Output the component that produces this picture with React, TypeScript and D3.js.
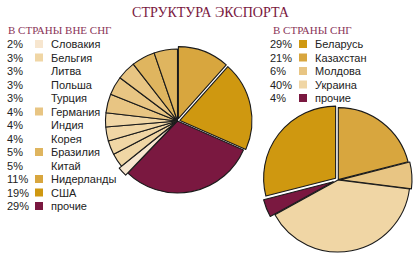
import React from "react";
import * as d3 from "d3";

const leftNames = ["Словакия","Бельгия","Литва","Польша","Турция","Германия","Индия","Корея","Бразилия","Китай","Нидерланды","США","прочие"];
const leftValues = [2,3,3,3,3,4,4,4,5,5,11,19,29];
const leftColors = ["#f7e6cf","#f0d6a5","#f0d6a5","#f0d6a5","#f0d6a5","#e8c583","#e8c583","#e8c583","#dfb55f","#dfb55f","#d8a63e","#cf9810","#7a1840"];
const leftSwatch = [true,true,false,false,false,true,false,false,true,false,true,true,true];
const leftPieOrder = ["Нидерланды","США","прочие","Словакия","Бельгия","Литва","Польша","Турция","Германия","Индия","Корея","Бразилия","Китай"];
const leftExplode: Record<string, number> = { "Нидерланды": 2.5, "США": 2.5, "Словакия": 3 };

const rightNames = ["Беларусь","Казахстан","Молдова","Украина","прочие"];
const rightValues = [29,21,6,40,4];
const rightColors = ["#cf9810","#d8a63e","#e8c583","#f0d6a5","#7a1840"];
const rightPieOrder = ["Казахстан","Молдова","Украина","прочие","Беларусь"];
const rightExplode: Record<string, number> = { "Беларусь": 3, "Молдова": 2, "прочие": 5, "Казахстан": 0.5 };

const MAROON = "#7a1840";
const TEXT = "#222";

type Item = { name: string; value: number; color: string };

function Pie({ items, order, explode, cx, cy, r }: { items: Item[]; order: string[]; explode: Record<string, number>; cx: number; cy: number; r: number }) {
  const data = order.map((n) => items.find((i) => i.name === n)!);
  const arcs = d3.pie<Item>().sort(null).value((d) => d.value)(data);
  const arc = d3.arc<d3.PieArcDatum<Item>>().innerRadius(0).outerRadius(r);
  return (
    <g transform={`translate(${cx},${cy})`}>
      {arcs.map((a, i) => {
        const e = explode[a.data.name] || 0;
        const mid = (a.startAngle + a.endAngle) / 2;
        const dx = Math.sin(mid) * e;
        const dy = -Math.cos(mid) * e;
        return (
          <path key={i} d={arc(a) || ""} transform={`translate(${dx},${dy})`} fill={a.data.color} stroke="#1a1a1a" strokeWidth={1.1} strokeLinejoin="round" />
        );
      })}
    </g>
  );
}

export default function App() {
  const left: Item[] = leftNames.map((n, i) => ({ name: n, value: leftValues[i], color: leftColors[i] }));
  const right: Item[] = rightNames.map((n, i) => ({ name: n, value: rightValues[i], color: rightColors[i] }));
  const rowY = d3.scaleLinear().domain([0, 1]).range([44, 57.5]);
  const font = "'Liberation Sans', Arial, sans-serif";
  return (
    <svg width={416} height={257} style={{ position: "absolute", left: 0, top: 0 }} fontFamily={font}>
      <rect width={416} height={257} fill="#fff" />
      <text x={132} y={17} fill={MAROON} fontFamily="'Liberation Serif', serif" fontSize={15} textLength={157} lengthAdjust="spacingAndGlyphs">СТРУКТУРА ЭКСПОРТА</text>
      <text x={8} y={34} fill="#8a3558" fontFamily="'Liberation Serif', serif" fontSize={11}>В СТРАНЫ ВНЕ СНГ</text>
      <text x={273} y={34} fill="#8a3558" fontFamily="'Liberation Serif', serif" fontSize={11}>В СТРАНЫ СНГ</text>
      {left.map((d, i) => (
        <g key={i}>
          <text x={7} y={rowY(i) + 4} fontSize={11} fill={TEXT}>{d.value}%</text>
          {leftSwatch[i] && <rect x={35} y={rowY(i) - 4} width={8} height={8} fill={d.color} />}
          <text x={51} y={rowY(i) + 4} fontSize={11} fill={TEXT}>{d.name}</text>
        </g>
      ))}
      {right.map((d, i) => (
        <g key={i}>
          <text x={270} y={rowY(i) + 4} fontSize={11} fill={TEXT}>{d.value}%</text>
          <rect x={299} y={rowY(i) - 4} width={8} height={8} fill={d.color} />
          <text x={315} y={rowY(i) + 4} fontSize={11} fill={TEXT}>{d.name}</text>
        </g>
      ))}
      <Pie items={left} order={leftPieOrder} explode={leftExplode} cx={177.5} cy={121} r={72} />
      <Pie items={right} order={rightPieOrder} explode={rightExplode} cx={338} cy={180} r={72} />
    </svg>
  );
}
